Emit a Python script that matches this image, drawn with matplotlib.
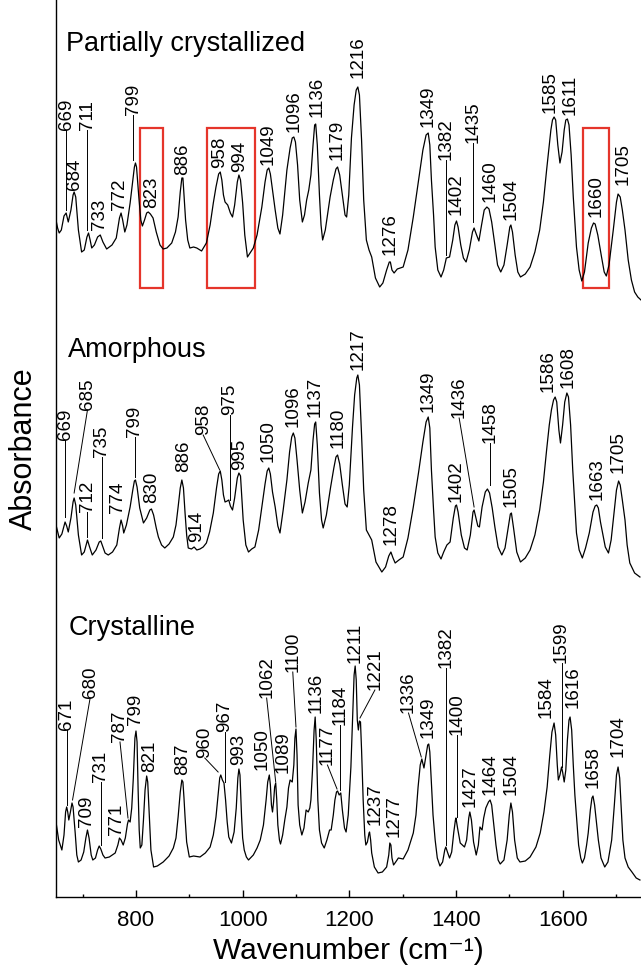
import matplotlib
matplotlib.use("Agg")
from matplotlib import pyplot as plt
from matplotlib.patches import Rectangle

plt.rcParams['font.family'] = ['Liberation Sans', 'DejaVu Sans']

# spectra (wavenumber, absorbance in arbitrary units, stacked)
wn_partial = [650, 653, 656, 660, 665, 669, 673, 678, 682, 684, 687, 692, 698, 703, 708, 711, 714, 717,
              722, 728, 733, 738, 745, 755, 763, 769, 772, 775, 779, 783, 789, 794, 797, 799, 801, 805,
              809, 812, 816, 820, 823, 827, 832, 838, 845, 851, 858, 867, 874, 879, 883, 886, 888, 890,
              893, 897, 901, 908, 914, 923, 932, 939, 945, 950, 955, 958, 961, 964, 967, 972, 977, 981,
              985, 990, 993, 996, 1000, 1004, 1009, 1015, 1020, 1027, 1036, 1042, 1046, 1049, 1052,
              1056, 1061, 1066, 1070, 1075, 1083, 1089, 1093, 1096, 1099, 1103, 1107, 1112, 1116, 1120,
              1124, 1128, 1132, 1135, 1137, 1140, 1144, 1147, 1150, 1155, 1164, 1170, 1175, 1178, 1182,
              1187, 1192, 1195, 1199, 1204, 1209, 1213, 1216, 1219, 1223, 1227, 1232, 1237, 1242, 1249,
              1257, 1263, 1270, 1275, 1277, 1280, 1284, 1290, 1301, 1310, 1320, 1330, 1338, 1344, 1348,
              1351, 1354, 1358, 1361, 1366, 1372, 1377, 1382, 1388, 1394, 1398, 1401, 1404, 1409, 1414,
              1419, 1425, 1431, 1434, 1438, 1443, 1448, 1453, 1458, 1462, 1467, 1473, 1478, 1484, 1490,
              1496, 1501, 1503, 1506, 1511, 1516, 1521, 1530, 1539, 1548, 1557, 1564, 1570, 1575, 1578,
              1581, 1584, 1587, 1591, 1595, 1599, 1603, 1606, 1609, 1612, 1616, 1620, 1626, 1631, 1636,
              1641, 1648, 1654, 1658, 1661, 1666, 1673, 1678, 1682, 1687, 1695, 1701, 1704, 1708, 1712,
              1717, 1723, 1729, 1735, 1741, 1747]
ab_partial = [6.80, 6.72, 6.67, 6.70, 6.84, 6.87, 6.78, 6.90, 7.05, 7.08, 7.03, 6.70, 6.48, 6.50, 6.63,
              6.67, 6.60, 6.52, 6.55, 6.63, 6.65, 6.58, 6.51, 6.55, 6.62, 6.82, 6.87, 6.80, 6.68, 6.75,
              6.97, 7.20, 7.33, 7.37, 7.33, 7.05, 6.80, 6.74, 6.80, 6.87, 6.88, 6.86, 6.82, 6.68, 6.55,
              6.51, 6.52, 6.57, 6.68, 6.83, 7.08, 7.22, 7.22, 7.05, 6.80, 6.60, 6.52, 6.53, 6.52, 6.49,
              6.57, 6.75, 6.97, 7.13, 7.26, 7.28, 7.20, 7.05, 6.98, 6.95, 6.87, 6.83, 6.95, 7.18, 7.25,
              7.20, 6.97, 6.65, 6.43, 6.48, 6.52, 6.65, 6.93, 7.18, 7.30, 7.32, 7.26, 7.10, 6.90, 6.72,
              6.66, 6.85, 7.30, 7.52, 7.62, 7.63, 7.58, 7.35, 7.00, 6.78, 6.85, 7.00, 7.10, 7.25, 7.55,
              7.75, 7.76, 7.55, 7.05, 6.75, 6.60, 6.70, 7.03, 7.20, 7.31, 7.33, 7.25, 7.05, 6.85, 6.83,
              7.05, 7.62, 7.95, 8.10, 8.13, 8.05, 7.60, 7.00, 6.60, 6.50, 6.43, 6.22, 6.13, 6.17, 6.30,
              6.38, 6.38, 6.30, 6.27, 6.31, 6.33, 6.50, 6.83, 7.20, 7.50, 7.65, 7.67, 7.55, 7.20, 6.85,
              6.53, 6.30, 6.23, 6.30, 6.42, 6.43, 6.60, 6.75, 6.79, 6.73, 6.55, 6.42, 6.38, 6.50, 6.68,
              6.72, 6.66, 6.59, 6.75, 6.90, 6.93, 6.91, 6.78, 6.55, 6.35, 6.28, 6.35, 6.55, 6.73, 6.75,
              6.68, 6.45, 6.28, 6.23, 6.26, 6.33, 6.48, 6.70, 6.98, 7.30, 7.55, 7.70, 7.80, 7.83, 7.80,
              7.55, 7.37, 7.48, 7.70, 7.80, 7.81, 7.75, 7.45, 7.03, 6.53, 6.30, 6.19, 6.28, 6.57, 6.72,
              6.77, 6.76, 6.65, 6.43, 6.28, 6.24, 6.35, 6.70, 6.98, 7.06, 7.03, 6.90, 6.70, 6.40, 6.20,
              6.08, 6.03, 6.00]

wn_amorph = [650, 656, 661, 667, 670, 673, 678, 682, 684, 687, 692, 698, 703, 709, 713, 718, 725, 731,
             734, 738, 742, 748, 756, 764, 769, 772, 775, 777, 782, 789, 794, 797, 799, 802, 807, 814,
             820, 826, 829, 833, 838, 842, 848, 854, 862, 870, 875, 879, 883, 886, 889, 892, 895, 898,
             904, 909, 914, 920, 926, 932, 938, 945, 951, 955, 958, 961, 964, 967, 971, 974, 977, 981,
             985, 990, 993, 996, 1001, 1006, 1011, 1017, 1023, 1030, 1036, 1042, 1046, 1049, 1052,
             1056, 1061, 1066, 1070, 1076, 1083, 1088, 1092, 1095, 1098, 1102, 1107, 1112, 1117, 1123,
             1128, 1132, 1135, 1137, 1140, 1144, 1148, 1151, 1157, 1165, 1171, 1175, 1178, 1182, 1187,
             1192, 1196, 1200, 1206, 1210, 1214, 1216, 1219, 1223, 1227, 1232, 1237, 1242, 1250, 1261,
             1268, 1274, 1278, 1282, 1286, 1293, 1301, 1310, 1320, 1330, 1338, 1344, 1348, 1351, 1354,
             1358, 1361, 1366, 1372, 1377, 1383, 1389, 1395, 1399, 1401, 1404, 1410, 1416, 1421, 1427,
             1432, 1434, 1437, 1441, 1444, 1449, 1455, 1459, 1463, 1468, 1473, 1479, 1486, 1492, 1498,
             1502, 1504, 1508, 1514, 1521, 1530, 1539, 1548, 1557, 1564, 1570, 1575, 1579, 1583, 1586,
             1589, 1593, 1596, 1600, 1604, 1608, 1611, 1615, 1619, 1626, 1631, 1637, 1643, 1650, 1657,
             1661, 1664, 1667, 1671, 1675, 1680, 1686, 1691, 1695, 1701, 1705, 1708, 1712, 1717, 1721,
             1726, 1735, 1745]
ab_amorph = [3.75, 3.62, 3.66, 3.78, 3.74, 3.68, 3.82, 3.98, 4.02, 3.95, 3.65, 3.45, 3.48, 3.60, 3.53,
             3.45, 3.50, 3.58, 3.59, 3.53, 3.47, 3.45, 3.48, 3.55, 3.72, 3.80, 3.74, 3.67, 3.75, 3.93,
             4.10, 4.19, 4.20, 4.13, 3.92, 3.77, 3.82, 3.90, 3.91, 3.85, 3.72, 3.63, 3.55, 3.52, 3.56,
             3.63, 3.75, 3.93, 4.12, 4.20, 4.12, 3.87, 3.65, 3.52, 3.51, 3.53, 3.50, 3.51, 3.53, 3.57,
             3.68, 3.87, 4.12, 4.26, 4.29, 4.20, 4.05, 3.98, 3.99, 4.00, 3.94, 3.90, 4.02, 4.22, 4.27,
             4.24, 3.80, 3.55, 3.48, 3.51, 3.53, 3.70, 3.93, 4.16, 4.29, 4.32, 4.26, 4.08, 3.93, 3.74,
             3.67, 3.90, 4.20, 4.48, 4.63, 4.67, 4.62, 4.40, 4.10, 3.87, 3.98, 4.17, 4.30, 4.60, 4.76,
             4.78, 4.55, 4.07, 3.80, 3.72, 3.85, 4.13, 4.32, 4.43, 4.45, 4.36, 4.15, 3.96, 3.93, 4.15,
             4.73, 5.05, 5.22, 5.25, 5.15, 4.65, 4.10, 3.70, 3.65, 3.60, 3.38, 3.28, 3.33, 3.44, 3.48,
             3.42, 3.37, 3.40, 3.43, 3.62, 3.93, 4.28, 4.58, 4.78, 4.83, 4.72, 4.30, 3.90, 3.63, 3.47,
             3.41, 3.48, 3.55, 3.58, 3.82, 3.94, 3.95, 3.88, 3.65, 3.52, 3.50, 3.65, 3.88, 3.90, 3.83,
             3.74, 3.73, 3.93, 4.08, 4.11, 4.07, 3.92, 3.73, 3.53, 3.45, 3.52, 3.72, 3.86, 3.87, 3.72,
             3.48, 3.38, 3.42, 3.50, 3.65, 3.90, 4.18, 4.50, 4.75, 4.90, 5.00, 5.03, 4.98, 4.70, 4.57,
             4.75, 4.98, 5.07, 5.03, 4.75, 4.30, 3.67, 3.50, 3.42, 3.52, 3.67, 3.88, 3.94, 3.95, 3.92,
             3.78, 3.67, 3.53, 3.47, 3.60, 3.80, 4.10, 4.19, 4.15, 4.00, 3.80, 3.55, 3.37, 3.27, 3.23]

wn_cryst = [650, 655, 661, 665, 668, 670, 672, 674, 677, 680, 682, 686, 689, 692, 697, 702, 706, 709,
            712, 716, 719, 724, 728, 731, 734, 738, 742, 750, 761, 766, 769, 772, 776, 780, 784, 786,
            789, 792, 795, 798, 800, 802, 804, 806, 808, 811, 814, 817, 820, 822, 825, 828, 833, 840,
            851, 862, 870, 875, 879, 883, 886, 888, 890, 892, 895, 900, 908, 920, 930, 939, 945, 950,
            954, 957, 959, 962, 965, 968, 971, 974, 979, 984, 988, 991, 993, 995, 998, 1000, 1003,
            1007, 1011, 1020, 1027, 1033, 1039, 1044, 1047, 1050, 1052, 1054, 1056, 1058, 1060, 1062,
            1064, 1066, 1069, 1071, 1075, 1079, 1083, 1086, 1089, 1093, 1096, 1098, 1100, 1102, 1104,
            1107, 1111, 1115, 1119, 1123, 1126, 1128, 1131, 1134, 1136, 1138, 1141, 1144, 1148, 1153,
            1158, 1163, 1166, 1170, 1173, 1176, 1178, 1181, 1184, 1187, 1191, 1194, 1198, 1203, 1206,
            1209, 1211, 1213, 1215, 1217, 1219, 1221, 1223, 1226, 1229, 1231, 1234, 1237, 1238, 1240,
            1242, 1247, 1254, 1262, 1270, 1274, 1276, 1278, 1280, 1283, 1287, 1292, 1301, 1310, 1320,
            1325, 1329, 1333, 1336, 1340, 1344, 1347, 1349, 1351, 1354, 1357, 1361, 1365, 1370, 1375,
            1379, 1381, 1384, 1388, 1392, 1396, 1399, 1400, 1403, 1408, 1412, 1416, 1420, 1424, 1426,
            1429, 1433, 1438, 1442, 1445, 1449, 1452, 1456, 1461, 1464, 1467, 1470, 1475, 1479, 1483,
            1490, 1496, 1500, 1503, 1506, 1510, 1515, 1520, 1530, 1539, 1550, 1558, 1565, 1571, 1576,
            1580, 1584, 1587, 1590, 1592, 1595, 1598, 1600, 1603, 1606, 1609, 1612, 1614, 1617, 1620,
            1623, 1626, 1630, 1634, 1637, 1641, 1645, 1648, 1652, 1655, 1657, 1660, 1664, 1667, 1672,
            1679, 1685, 1692, 1697, 1701, 1704, 1707, 1710, 1713, 1717, 1723, 1730, 1738, 1745]
ab_cryst = [0.78, 0.60, 0.50, 0.65, 0.88, 0.93, 0.88, 0.80, 0.88, 0.97, 0.93, 0.67, 0.45, 0.38, 0.40,
            0.48, 0.62, 0.70, 0.62, 0.45, 0.40, 0.42, 0.50, 0.54, 0.51, 0.45, 0.42, 0.43, 0.47, 0.55,
            0.62, 0.60, 0.55, 0.62, 0.76, 0.80, 0.78, 0.92, 1.22, 1.62, 1.69, 1.58, 1.10, 0.70, 0.52,
            0.55, 0.80, 1.10, 1.24, 1.18, 0.85, 0.50, 0.33, 0.34, 0.38, 0.44, 0.52, 0.62, 0.83, 1.08,
            1.20, 1.18, 1.02, 0.83, 0.58, 0.43, 0.44, 0.43, 0.47, 0.53, 0.65, 0.83, 1.05, 1.22, 1.25,
            1.20, 1.17, 1.00, 0.78, 0.63, 0.57, 0.68, 0.92, 1.22, 1.31, 1.25, 0.83, 0.62, 0.50, 0.43,
            0.40, 0.45, 0.52, 0.60, 0.75, 1.00, 1.18, 1.25, 1.15, 0.95, 0.88, 0.98, 1.13, 1.17, 1.00,
            0.75, 0.60, 0.56, 0.65, 0.80, 0.93, 1.12, 1.20, 1.18, 1.35, 1.62, 1.71, 1.45, 0.95, 0.75,
            0.65, 0.72, 0.90, 0.88, 0.92, 1.00, 1.30, 1.70, 1.83, 1.60, 1.00, 0.70, 0.57, 0.52, 0.60,
            0.70, 0.70, 0.85, 1.00, 1.08, 1.09, 1.05, 1.07, 0.90, 0.72, 0.68, 0.85, 1.33, 1.80, 2.25,
            2.34, 2.20, 1.80, 1.70, 1.79, 1.78, 1.50, 1.00, 0.65, 0.55, 0.58, 0.67, 0.68, 0.60, 0.47,
            0.33, 0.27, 0.28, 0.33, 0.45, 0.57, 0.55, 0.42, 0.35, 0.38, 0.42, 0.41, 0.50, 0.67, 0.85,
            1.13, 1.35, 1.41, 1.32, 1.45, 1.55, 1.56, 1.48, 1.17, 0.85, 0.60, 0.42, 0.34, 0.38, 0.50,
            0.53, 0.48, 0.42, 0.48, 0.68, 0.80, 0.82, 0.72, 0.57, 0.55, 0.53, 0.60, 0.82, 0.88, 0.80,
            0.58, 0.45, 0.55, 0.73, 0.70, 0.82, 0.92, 0.98, 1.00, 0.95, 0.80, 0.55, 0.40, 0.36, 0.40,
            0.60, 0.85, 0.97, 0.88, 0.60, 0.42, 0.38, 0.39, 0.43, 0.53, 0.67, 0.88, 1.13, 1.45, 1.68,
            1.77, 1.65, 1.35, 1.20, 1.25, 1.33, 1.28, 1.18, 1.30, 1.60, 1.80, 1.83, 1.70, 1.35, 1.05,
            0.83, 0.55, 0.42, 0.37, 0.42, 0.55, 0.67, 0.90, 1.02, 1.04, 0.95, 0.75, 0.60, 0.42, 0.33,
            0.38, 0.60, 0.95, 1.25, 1.33, 1.22, 0.90, 0.60, 0.42, 0.33, 0.28, 0.22, 0.20]

# peak labels: text, label x, label bottom, leader target x, leader target y (None = no leader)
labels_partial = [("669", 669, 7.70, 669, 6.90), ("684", 684, 7.10, None, None),
                  ("711", 709, 7.70, 709, 6.70), ("733", 732, 6.70, None, None),
                  ("772", 769, 6.90, None, None), ("799", 795, 7.85, 795, 7.40),
                  ("823", 829, 6.92, None, None), ("886", 887, 7.25, None, None),
                  ("958", 957, 7.32, None, None), ("994", 994, 7.28, None, None),
                  ("1049", 1048, 7.35, None, None), ("1096", 1096, 7.68, None, None),
                  ("1136", 1139, 7.83, None, None), ("1179", 1178, 7.40, None, None),
                  ("1216", 1216, 8.22, None, None), ("1276", 1277, 6.45, None, None),
                  ("1349", 1348, 7.73, None, None), ("1382", 1382, 7.40, 1382, 6.45),
                  ("1402", 1401, 6.85, None, None), ("1435", 1432, 7.57, 1432, 6.78),
                  ("1460", 1464, 6.98, None, None), ("1504", 1503, 6.80, None, None),
                  ("1585", 1576, 7.87, None, None), ("1611", 1614, 7.85, None, None),
                  ("1660", 1662, 6.83, None, None), ("1705", 1714, 7.15, None, None)]

labels_amorph = [("669", 667, 4.60, 667, 3.83), ("685", 709, 4.90, 684, 4.07),
                 ("712", 709, 3.88, 709, 3.63), ("735", 736, 4.43, 736, 3.62),
                 ("774", 765, 3.87, None, None), ("799", 798, 4.63, 798, 4.23),
                 ("830", 829, 3.97, None, None), ("886", 889, 4.28, None, None),
                 ("914", 914, 3.58, None, None), ("958", 926, 4.65, 957, 4.30),
                 ("975", 976, 4.85, 976, 4.00), ("995", 995, 4.30, None, None),
                 ("1050", 1048, 4.38, None, None), ("1096", 1095, 4.73, None, None),
                 ("1137", 1136, 4.83, None, None), ("1180", 1179, 4.52, None, None),
                 ("1217", 1216, 5.30, None, None), ("1278", 1279, 3.55, None, None),
                 ("1349", 1348, 4.88, None, None), ("1402", 1400, 3.98, None, None),
                 ("1436", 1406, 4.82, 1434, 3.93), ("1458", 1464, 4.57, 1464, 4.15),
                 ("1505", 1504, 3.93, None, None), ("1586", 1573, 5.08, None, None),
                 ("1608", 1611, 5.12, None, None), ("1663", 1664, 4.00, None, None),
                 ("1705", 1704, 4.27, None, None)]

labels_cryst = [("671", 670, 1.70, 670, 0.95), ("680", 714, 2.02, 681, 1.00),
                ("709", 707, 0.73, None, None), ("731", 734, 1.18, 734, 0.55),
                ("771", 764, 0.65, None, None), ("787", 770, 1.58, 785, 0.82),
                ("799", 800, 1.75, None, None), ("821", 826, 1.28, None, None),
                ("887", 887, 1.25, None, None), ("960", 929, 1.42, 954, 1.28),
                ("967", 967, 1.68, 967, 1.18), ("993", 993, 1.35, None, None),
                ("1050", 1036, 1.30, None, None), ("1062", 1045, 2.02, 1062, 1.18),
                ("1089", 1076, 1.27, None, None), ("1100", 1094, 2.28, 1100, 1.73),
                ("1136", 1137, 1.87, None, None), ("1177", 1159, 1.35, 1177, 1.11),
                ("1184", 1182, 1.75, 1182, 1.10), ("1211", 1211, 2.37, None, None),
                ("1221", 1248, 2.10, 1220, 1.82), ("1237", 1248, 0.75, None, None),
                ("1277", 1284, 0.63, None, None), ("1336", 1311, 1.87, 1335, 1.43),
                ("1349", 1348, 1.62, None, None), ("1382", 1382, 2.32, 1382, 0.55),
                ("1400", 1402, 1.65, 1402, 0.83), ("1427", 1426, 0.93, None, None),
                ("1464", 1464, 1.05, None, None), ("1504", 1504, 1.05, None, None),
                ("1584", 1570, 1.82, None, None), ("1599", 1598, 2.37, 1598, 1.33),
                ("1616", 1620, 1.92, None, None), ("1658", 1657, 1.12, None, None),
                ("1704", 1704, 1.43, None, None)]

# highlighted regions on the partially crystallized trace
boxes = [(807, 850), (934, 1023), (1639, 1687)]
box_low, box_high = 6.12, 7.72

titles = [("Partially crystallized", 669, 8.56), ("Amorphous", 673, 5.50), ("Crystalline", 673, 2.72)]

fig = plt.figure(figsize=(6.41, 9.67), dpi=100)
ax = fig.add_axes([56 / 641, 70 / 967, 585 / 641, 897 / 967])

for wn, ab in [(wn_partial, ab_partial), (wn_amorph, ab_amorph), (wn_cryst, ab_cryst)]:
    ax.plot(wn, ab, color="black", lw=0.9, solid_joinstyle="round")

for lab in [labels_partial, labels_amorph, labels_cryst]:
    for t, lx, ly, tx, ty in lab:
        ax.text(lx, ly, t, rotation=90, ha="center", va="bottom", fontsize=13.5)
        if tx is not None:
            ax.plot([lx, tx], [ly, ty], color="black", lw=0.7)

for x0, x1 in boxes:
    ax.add_patch(Rectangle((x0, box_low), x1 - x0, box_high - box_low,
                           fill=False, edgecolor="#e5352b", lw=1.6))

for t, x, y in titles:
    ax.text(x, y, t, ha="left", va="center", fontsize=19.5)

ax.set_xlim(650, 1747)
ax.set_ylim(0.03, 9.0)
ax.set_xticks([800, 1000, 1200, 1400, 1600])
ax.set_xticks(range(700, 1701, 100), minor=True)
ax.set_yticks([])
ax.tick_params(axis="x", direction="in", length=5, width=1, labelsize=16, pad=9)
ax.tick_params(axis="x", which="minor", direction="in", length=2.5, width=1)
ax.spines["top"].set_visible(False)
ax.spines["right"].set_visible(False)
ax.spines["left"].set_linewidth(1)
ax.spines["bottom"].set_linewidth(1)
ax.set_xlabel("Wavenumber (cm\u207b\u00b9)", fontsize=21.5, labelpad=5)
ax.set_ylabel("Absorbance", fontsize=22, labelpad=12)

plt.savefig("out.png", dpi=100)
